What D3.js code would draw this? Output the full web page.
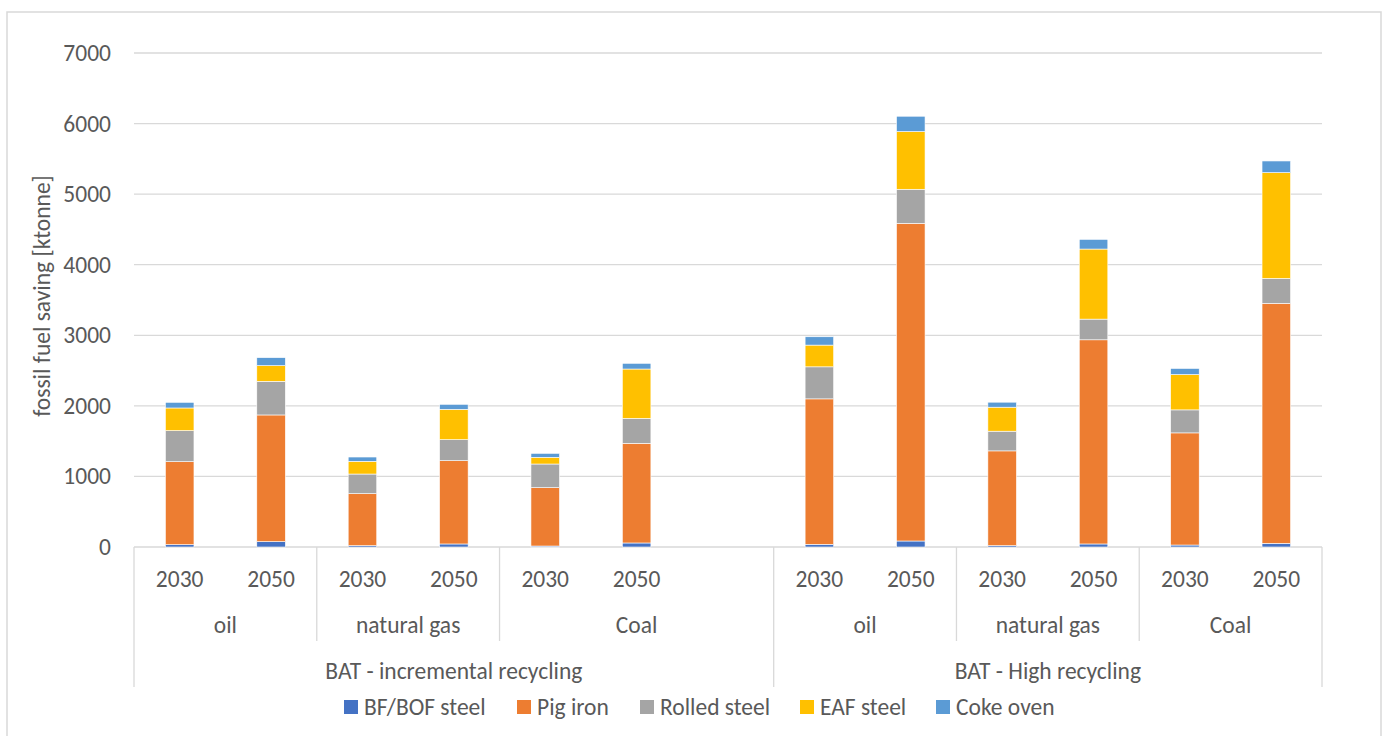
<!DOCTYPE html>
<html>
<head>
<meta charset="utf-8">
<script src="https://cdn.jsdelivr.net/npm/d3@7"></script>
<style>
  body { margin: 0; background: #fff; }
  svg text { font-family: Carlito, Calibri, Lato, sans-serif; fill: #595959; }
</style>
</head>
<body>
<svg id="chart" width="1386" height="736"></svg>
<script>
// category levels (the 7th slot is the empty one in the Excel sheet)
var years = ["2030", "2050", "2030", "2050", "2030", "2050", "", "2030", "2050", "2030", "2050", "2030", "2050"];
var fuels = ["oil", "natural gas", "Coal", "oil", "natural gas", "Coal"];
var fuelSpans = [2, 2, 3, 2, 2, 2];
var scenarios = ["BAT - incremental recycling", "BAT - High recycling"];
var scenarioSpans = [7, 6];

var seriesNames = ["BF/BOF steel", "Pig iron", "Rolled steel", "EAF steel", "Coke oven"];
var seriesColors = ["#4472C4", "#ED7D31", "#A5A5A5", "#FFC000", "#5B9BD5"];

var bfBof       = [33, 76, 19, 43, 14, 57, 0, 38, 85, 19, 43, 28, 52];
var pigIron     = [1176, 1795, 737, 1180, 827, 1412, 0, 2061, 4501, 1343, 2893, 1589, 3400];
var rolledSteel = [440, 477, 278, 298, 335, 354, 0, 454, 483, 279, 293, 326, 354];
var eafSteel    = [321, 222, 180, 430, 95, 699, 0, 308, 818, 340, 993, 501, 1499];
var cokeOven    = [80, 113, 61, 71, 56, 81, 0, 118, 217, 71, 137, 86, 165];

var yTicks = [0, 1000, 2000, 3000, 4000, 5000, 6000, 7000];

var svg = d3.select("#chart"),
    plotL = 134, plotR = 1322, plotT = 53, plotB = 547,
    fs = 23.5;

// chart area border
svg.append("rect")
    .attr("x", 7).attr("y", 12)
    .attr("width", 1374).attr("height", 740)
    .attr("fill", "none")
    .attr("stroke", "#d9d9d9")
    .attr("stroke-width", 1.5);

var rows = years.map(function(d, i) {
  return {i: i, "BF/BOF steel": bfBof[i], "Pig iron": pigIron[i], "Rolled steel": rolledSteel[i],
          "EAF steel": eafSteel[i], "Coke oven": cokeOven[i]};
});

var x = d3.scaleBand()
    .domain(d3.range(years.length))
    .range([plotL, plotR])
    .paddingInner(0.6875)
    .paddingOuter(0.34375);

var y = d3.scaleLinear()
    .domain([0, 7000])
    .range([plotB, plotT]);

var z = d3.scaleOrdinal()
    .domain(seriesNames)
    .range(seriesColors);

// gridlines
svg.append("g")
  .selectAll("line")
  .data(yTicks)
  .enter().append("line")
    .attr("x1", plotL).attr("x2", plotR)
    .attr("y1", function(d) { return y(d); })
    .attr("y2", function(d) { return y(d); })
    .attr("stroke", "#d9d9d9")
    .attr("stroke-width", 1.3);

// y axis labels
var yAxis = svg.append("g")
    .attr("transform", "translate(111,0)")
    .call(d3.axisLeft(y).tickValues(yTicks).tickSize(0).tickPadding(0).tickFormat(d3.format("d")));
yAxis.select(".domain").remove();
yAxis.attr("font-family", null).attr("font-size", null);
yAxis.selectAll("text")
    .attr("font-size", fs)
    .attr("fill", null);

svg.append("text")
    .attr("transform", "translate(50," + ((plotT + plotB) / 2 - 4) + ") rotate(-90)")
    .attr("text-anchor", "middle")
    .attr("font-size", fs)
    .text("fossil fuel saving [ktonne]");

// stacked bars
var stack = d3.stack().keys(seriesNames);
svg.append("g")
  .selectAll("g")
  .data(stack(rows))
  .enter().append("g")
    .attr("fill", function(d) { return z(d.key); })
  .selectAll("rect")
  .data(function(d) { return d.filter(function(p) { return p[1] > p[0]; }); })
  .enter().append("rect")
    .attr("x", function(d) { return x(d.data.i); })
    .attr("y", function(d) { return y(d[1]); })
    .attr("width", x.bandwidth())
    .attr("height", function(d) { return y(d[0]) - y(d[1]); })
    .attr("stroke", "#ffffff")
    .attr("stroke-width", 0.6);

// multi-level category axis
var step = x.step();
var axis = svg.append("g");

axis.selectAll(".year")
  .data(years)
  .enter().append("text")
    .attr("x", function(d, i) { return x(i) + x.bandwidth() / 2; })
    .attr("y", 587)
    .attr("text-anchor", "middle")
    .attr("font-size", fs)
    .text(function(d) { return d; });

function spanInfo(labels, spans) {
  var start = 0;
  return labels.map(function(l, k) {
    var o = {label: l, x0: plotL + start * step, x1: plotL + (start + spans[k]) * step};
    start += spans[k];
    return o;
  });
}
var fuelGroups = spanInfo(fuels, fuelSpans);
var scenGroups = spanInfo(scenarios, scenarioSpans);

axis.selectAll(".fuel")
  .data(fuelGroups)
  .enter().append("text")
    .attr("x", function(d) { return (d.x0 + d.x1) / 2; })
    .attr("y", 633)
    .attr("text-anchor", "middle")
    .attr("font-size", fs)
    .text(function(d) { return d.label; });

axis.selectAll(".scen")
  .data(scenGroups)
  .enter().append("text")
    .attr("x", function(d) { return (d.x0 + d.x1) / 2; })
    .attr("y", 679)
    .attr("text-anchor", "middle")
    .attr("font-size", fs)
    .text(function(d) { return d.label; });

// separators
var fuelEdges = fuelGroups.map(function(d) { return d.x1; }).filter(function(v) {
  return !scenGroups.some(function(s) { return Math.abs(s.x1 - v) < 1; });
});
axis.selectAll(".fsep")
  .data(fuelEdges)
  .enter().append("line")
    .attr("x1", function(d) { return d; }).attr("x2", function(d) { return d; })
    .attr("y1", plotB).attr("y2", 641)
    .attr("stroke", "#d9d9d9").attr("stroke-width", 1.3);

axis.selectAll(".ssep")
  .data([plotL].concat(scenGroups.map(function(d) { return d.x1; })))
  .enter().append("line")
    .attr("x1", function(d) { return d; }).attr("x2", function(d) { return d; })
    .attr("y1", plotB).attr("y2", 687)
    .attr("stroke", "#d9d9d9").attr("stroke-width", 1.3);

// legend
var legendX = [344, 517, 640, 800, 936];
var legend = svg.append("g")
  .selectAll("g")
  .data(seriesNames)
  .enter().append("g")
    .attr("transform", function(d, i) { return "translate(" + legendX[i] + ",707)"; });

legend.append("rect")
    .attr("x", 0).attr("y", -7)
    .attr("width", 14).attr("height", 14)
    .attr("fill", z);

legend.append("text")
    .attr("x", 20)
    .attr("dy", "0.35em")
    .attr("font-size", fs)
    .text(function(d) { return d; });
</script>
</body>
</html>
